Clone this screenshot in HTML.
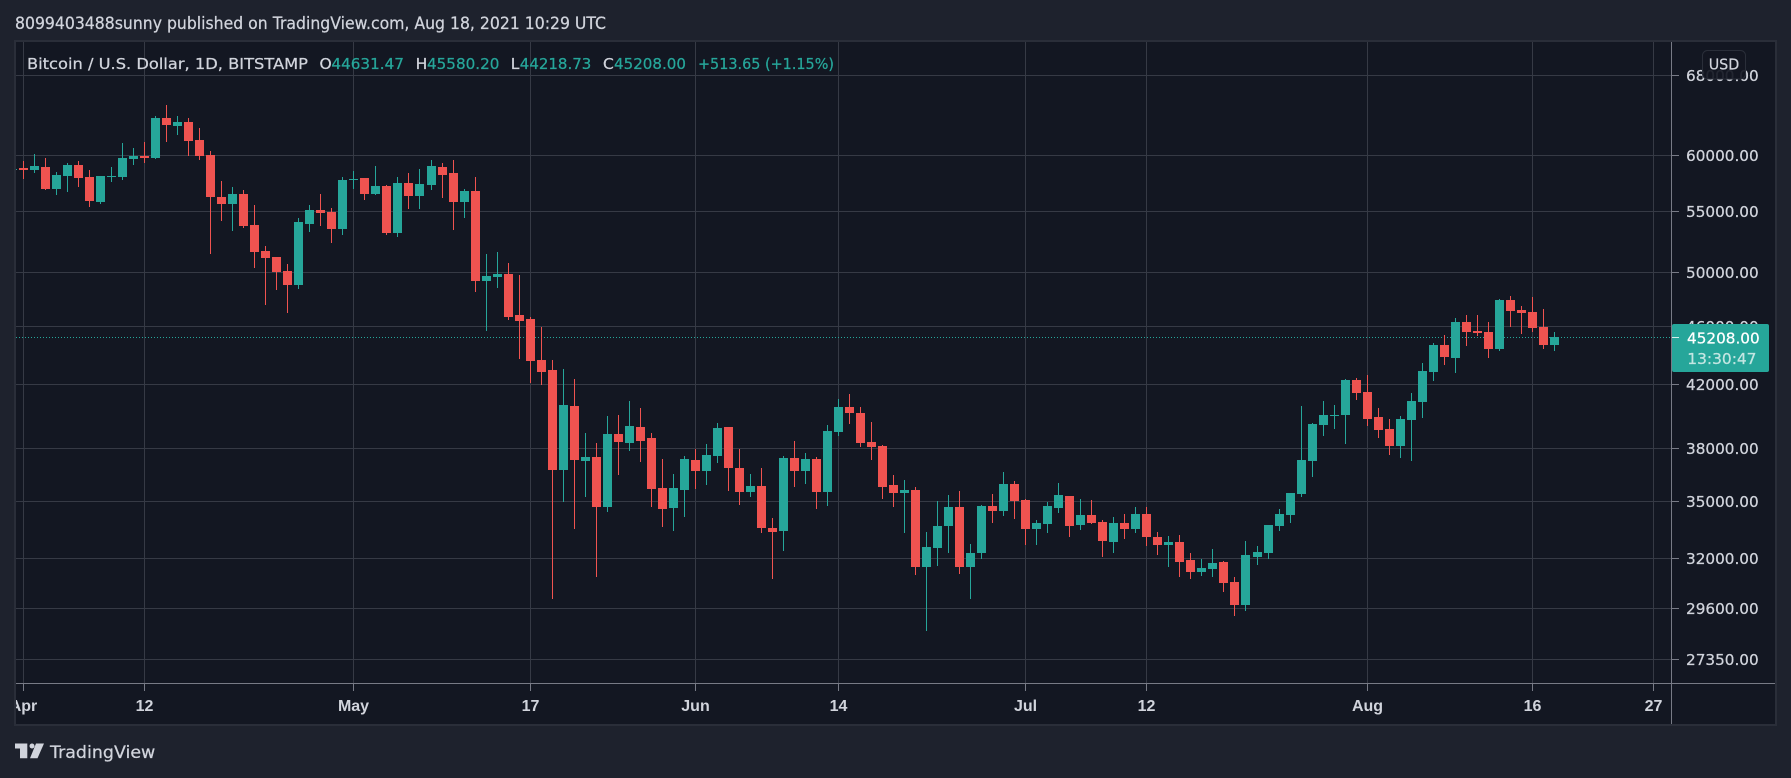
<!DOCTYPE html>
<html lang="en">
<head>
<meta charset="utf-8">
<title>Bitcoin / U.S. Dollar, 1D chart</title>
<style>
html,body{margin:0;padding:0;background:#1e222d;}
svg{display:block;}
text{font-family:"DejaVu Sans","Liberation Sans",sans-serif;stroke-width:.25px;}
</style>
</head>
<body>
<svg id="chart" xmlns="http://www.w3.org/2000/svg" width="1791" height="778" viewBox="0 0 1791 778">
  <defs>
    <clipPath id="plot-clip"><rect x="16" y="42" width="1655" height="641"></rect></clipPath>
    <clipPath id="time-clip"><rect x="16" y="42" width="1759" height="682"></rect></clipPath>
  </defs>
  <rect x="0" y="0" width="1791" height="778" fill="#1e222d"></rect>
  <text x="15" y="29" font-size="16.5" fill="#d1d4dc" stroke="#d1d4dc" textLength="591" lengthAdjust="spacingAndGlyphs">8099403488sunny published on TradingView.com, Aug 18, 2021 10:29 UTC</text>
  <rect x="15" y="41" width="1761" height="684" fill="#131722" stroke="#2a2e39" stroke-width="2"></rect>

  <g id="grid-layer" shape-rendering="crispEdges" clip-path="url(#time-clip)"></g>
  <g id="last-price-layer" clip-path="url(#plot-clip)"></g>
  <g id="candle-layer" shape-rendering="crispEdges" clip-path="url(#plot-clip)"></g>

  <rect x="1671" y="42" width="1" height="682" fill="#787b86" shape-rendering="crispEdges"></rect>
  <rect x="16" y="683" width="1759" height="1" fill="#787b86" shape-rendering="crispEdges"></rect>
  <g id="price-axis-layer"></g>
  <g id="time-axis-layer" clip-path="url(#time-clip)"></g>

  <g font-size="15.5">
    <text x="27" y="69" fill="#d1d4dc" stroke="#d1d4dc" textLength="281" lengthAdjust="spacingAndGlyphs">Bitcoin / U.S. Dollar, 1D, BITSTAMP</text>
    <text x="319.5" y="69" fill="#d1d4dc" stroke="#d1d4dc">O</text>
    <text x="331.4" y="69" fill="#26a69a" stroke="#26a69a" textLength="72.6" lengthAdjust="spacingAndGlyphs">44631.47</text>
    <text x="415.6" y="69" fill="#d1d4dc" stroke="#d1d4dc">H</text>
    <text x="427" y="69" fill="#26a69a" stroke="#26a69a" textLength="72.4" lengthAdjust="spacingAndGlyphs">45580.20</text>
    <text x="510.8" y="69" fill="#d1d4dc" stroke="#d1d4dc">L</text>
    <text x="519.8" y="69" fill="#26a69a" stroke="#26a69a" textLength="71.5" lengthAdjust="spacingAndGlyphs">44218.73</text>
    <text x="603" y="69" fill="#d1d4dc" stroke="#d1d4dc">C</text>
    <text x="614" y="69" fill="#26a69a" stroke="#26a69a" textLength="72" lengthAdjust="spacingAndGlyphs">45208.00</text>
    <text x="698" y="69" fill="#26a69a" stroke="#26a69a" textLength="136" lengthAdjust="spacingAndGlyphs">+513.65 (+1.15%)</text>
  </g>

  <g id="price-tag-layer"></g>

  <g>
    <rect x="1702.5" y="50.5" width="43" height="28.5" rx="5" fill="#131722" fill-opacity="0.92" stroke="#2a2e39"></rect>
    <text x="1708.7" y="69.5" font-size="15" fill="#d1d4dc" stroke="#d1d4dc" textLength="30.6" lengthAdjust="spacingAndGlyphs">USD</text>
  </g>

  <g>
    <path d="M15 743.5H27.3V758.3H20V748.5H15Z" fill="#d1d4dc"></path>
    <circle cx="32" cy="746" r="2.5" fill="#d1d4dc"></circle>
    <path d="M36 743.5H44L37.5 758.3H30Z" fill="#d1d4dc"></path>
    <text x="50" y="758" font-size="17" fill="#d1d4dc" stroke="#d1d4dc" textLength="105.3" lengthAdjust="spacingAndGlyphs">TradingView</text>
  </g>
</svg>

<script>
// Chart data: daily BTC/USD candles, first value is Mar 31 2021 (day index -1)
const firstDayIndex = -1;
const opens = [
58670,58850,58670,58940,56950,58120,59120,58030,55810,58030,
58030,59680,59960,59770,63620,62830,63220,61470,60050,56240,
55640,56510,53840,51700,51220,50120,49030,53930,55120,54950,
53510,57750,57940,56510,57220,53180,57490,56330,57310,58940,
58390,55810,56780,49340,49650,49880,46790,46500,43620,42950,
36750,40600,37270,37500,34690,38870,38330,39300,38630,35730,
34630,35620,37320,36690,37560,39300,36860,35510,35840,33570,
33420,37440,36690,37380,35510,38990,40540,40160,38390,38150,
35900,35450,35620,31590,32540,33680,34690,31590,32290,34740,
34470,35950,35070,33520,33780,34630,35290,33730,34260,33880,
32840,33830,33520,34310,33100,32690,32840,31930,31350,31490,
31840,30860,29770,32090,32290,33680,34260,35400,37270,39420,
39980,40040,42280,41500,39910,39180,38150,39720,40860,42820,
44660,43760,46280,45640,45570,44380,47900,47160,47010,45930,
44631.47];
const highs = [
58850,59490,60150,59770,58480,59310,59490,58670,58120,58940,
61190,60710,61280,63820,64920,63820,63620,62640,60430,57660,
57130,56870,55550,52110,51220,50670,54430,55550,56510,55290,
58030,58570,57940,59030,57310,58030,58390,58760,59580,59310,
59580,56950,58030,51460,51620,50740,49800,46650,45930,43620,
43020,42350,38930,38330,39980,40040,40920,40480,38930,37380,
36520,37560,37970,38270,39540,39300,37970,36520,36860,34100,
37560,38440,37740,37500,39420,41050,41370,40540,39600,38210,
36460,36180,35790,33360,35010,35340,35560,32740,34800,35400,
36630,36120,35120,33990,34960,36010,35290,35120,35070,33990,
34150,34310,34690,34690,33360,33150,33210,32290,31980,32490,
31890,31100,32890,32640,33730,34580,35450,40600,39540,40920,
40670,42350,42410,42610,40480,39790,39980,41440,43420,44790,
45360,46570,46790,46790,46280,47970,48200,47460,48120,47230,
45580.20];
const lows = [
58570,57840,58390,56870,56420,56690,57130,55380,55640,57570,
57750,59120,59310,59680,61280,61950,59960,59580,51460,54180,
53340,53590,50350,47530,48660,46940,48730,53260,53760,52350,
53010,56950,55980,56420,53010,52840,55210,55210,56870,56160,
53430,54430,48500,45640,48810,46430,43690,42080,41950,30050,
34960,33520,35230,31100,34420,36460,37850,37210,34690,33620,
33420,34150,35680,35900,37150,35560,34800,35230,33310,31000,
32390,35790,35950,34580,34740,38750,39480,38090,37320,35120,
34690,33310,31200,28590,31640,32290,31250,30050,31980,33830,
34200,34040,32690,32690,33310,34370,33100,33470,33780,32090,
32290,33000,33310,32640,32190,31590,31100,31000,31150,31100,
30380,29270,29500,31690,31980,33420,33830,35230,36350,38750,
39180,38270,40980,39360,38630,37620,37440,37270,39850,42210,
43280,42750,44590,45290,43760,44240,45930,45430,45570,44380,
44218.73];
const closes = [
58760,58670,59030,56950,58210,59120,57940,55890,58120,58120,
59770,59960,59770,63620,62930,63220,61370,59960,56240,55640,
56510,53760,51620,51140,50040,49030,54090,55120,54860,53510,
57750,57840,56510,57220,53180,57490,56330,57400,59030,58210,
55810,56780,49340,49730,49880,46650,46360,43550,42820,36750,
40670,37320,37500,34690,38870,38390,39360,38440,35680,34580,
35730,37380,36690,37620,39240,36860,35510,35840,33570,33360,
37440,36690,37380,35510,39050,40540,40160,38330,38090,35790,
35450,35620,31590,32590,33680,34690,31590,32290,34740,34470,
35950,35010,33520,33830,34740,35340,33680,34260,33830,32890,
33830,33520,34310,33100,32690,32840,31840,31350,31540,31790,
30810,29770,32190,32340,33730,34310,35450,37320,39480,40040,
40040,42280,41440,39790,39110,38150,39790,40920,42880,44660,
43830,46280,45570,45500,44380,47900,47090,46940,45860,44660,
45208.00];

// Axis tick data
const priceTicks = [68000,60000,55000,50000,46000,42000,38000,35000,32000,29600,27350];
const timeTickLabels = ['Apr','12','May','17','Jun','14','Jul','12','Aug','16','27'];
const timeTickDays = [0,11,30,46,61,74,91,102,122,137,148];
const lastPrice = 45208;
const countdownLabel = '13:30:47';

// Axis functions
function xScale(dayIndex) {
  return 23.515 + 11.0133 * dayIndex;
}
function yScale(price) {
  return 155.5 + 641.4 * Math.log(60000 / price);
}
function gridRow(price) {
  return Math.round(yScale(price) - 0.25);
}

const NS = 'http://www.w3.org/2000/svg';
function makeRect(parent, x, y, w, h, fill) {
  const r = document.createElementNS(NS, 'rect');
  r.setAttribute('x', x);
  r.setAttribute('y', y);
  r.setAttribute('width', w);
  r.setAttribute('height', h);
  r.setAttribute('fill', fill);
  parent.appendChild(r);
  return r;
}
function makeText(parent, x, y, str, size, fill, len) {
  const t = document.createElementNS(NS, 'text');
  t.setAttribute('x', x);
  t.setAttribute('y', y);
  t.setAttribute('font-size', size);
  t.setAttribute('fill', fill);
  t.setAttribute('stroke', fill);
  if (len) {
    t.setAttribute('textLength', len);
    t.setAttribute('lengthAdjust', 'spacingAndGlyphs');
  }
  t.textContent = str;
  parent.appendChild(t);
  return t;
}

const gridLayer = document.getElementById('grid-layer');
const priceAxisLayer = document.getElementById('price-axis-layer');
const timeAxisLayer = document.getElementById('time-axis-layer');
const candleLayer = document.getElementById('candle-layer');
const lastPriceLayer = document.getElementById('last-price-layer');
const priceTagLayer = document.getElementById('price-tag-layer');
const GRID = '#363a45';
const TICK = '#787b86';
const LABEL = '#d1d4dc';

priceTicks.forEach(function (tick) {
  const row = gridRow(tick);
  const line = makeRect(gridLayer, 16, row, 1655, 1, GRID);
  
  
  const mark = makeRect(priceAxisLayer, 1672, row, 7, 1, TICK);
  mark.setAttribute('shape-rendering', 'crispEdges');
  
  
  const label = makeText(priceAxisLayer, 1686, row + 6, tick.toFixed(2), 15.5, LABEL, 72.7);
  
  
});

timeTickDays.forEach(function (day, k) {
  const col = Math.floor(xScale(day));
  const line = makeRect(gridLayer, col, 42, 1, 641, GRID);
  
  
  const mark = makeRect(gridLayer, col, 684, 1, 7, TICK);
  
  
  const label = makeText(timeAxisLayer, col + 0.5, 711, timeTickLabels[k], 16, LABEL, 0);
  label.setAttribute('text-anchor', 'middle');
  label.setAttribute('font-weight', 'bold');
  label.setAttribute('stroke-width', '0');
  label.setAttribute('style', 'font-family:"Liberation Sans",sans-serif;stroke-width:0');
  
  
});

const lastRow = gridRow(lastPrice);
const dotted = document.createElementNS(NS, 'line');
dotted.setAttribute('x1', 16);
dotted.setAttribute('x2', 1671);
dotted.setAttribute('y1', lastRow + 0.5);
dotted.setAttribute('y2', lastRow + 0.5);
dotted.setAttribute('stroke', '#26a69a');
dotted.setAttribute('stroke-width', 1);
dotted.setAttribute('stroke-dasharray', '1 2');


lastPriceLayer.appendChild(dotted);

opens.forEach(function (open, k) {
  const close = closes[k];
  const up = close >= open;
  const color = up ? '#26a69a' : '#ef5350';
  const col = Math.floor(xScale(firstDayIndex + k));
  const top = Math.round(yScale(Math.max(open, close)));
  const bottom = Math.round(yScale(Math.min(open, close)));
  const hi = Math.round(yScale(highs[k]));
  const lo = Math.round(yScale(lows[k]));
  const wick = makeRect(candleLayer, col, hi, 1, Math.max(1, lo - hi), color);
  
  
  const body = makeRect(candleLayer, col - 4, top, 9, Math.max(1, bottom - top), color);
  
  
});

const tagBox = makeRect(priceTagLayer, 1672, lastRow - 13, 97, 48, '#26a69a');
tagBox.setAttribute('rx', 2);


const tagTick = makeRect(priceTagLayer, 1672, lastRow, 7, 1, '#d5efec');
tagTick.setAttribute('shape-rendering', 'crispEdges');


const tagPrice = makeText(priceTagLayer, 1687, lastRow + 6.5, lastPrice.toFixed(2), 15.5, '#ffffff', 72.7);


const tagCountdown = makeText(priceTagLayer, 1687.3, lastRow + 27, countdownLabel, 15.5, '#c4e6e2', 69.2);


</script>
</body>
</html>
